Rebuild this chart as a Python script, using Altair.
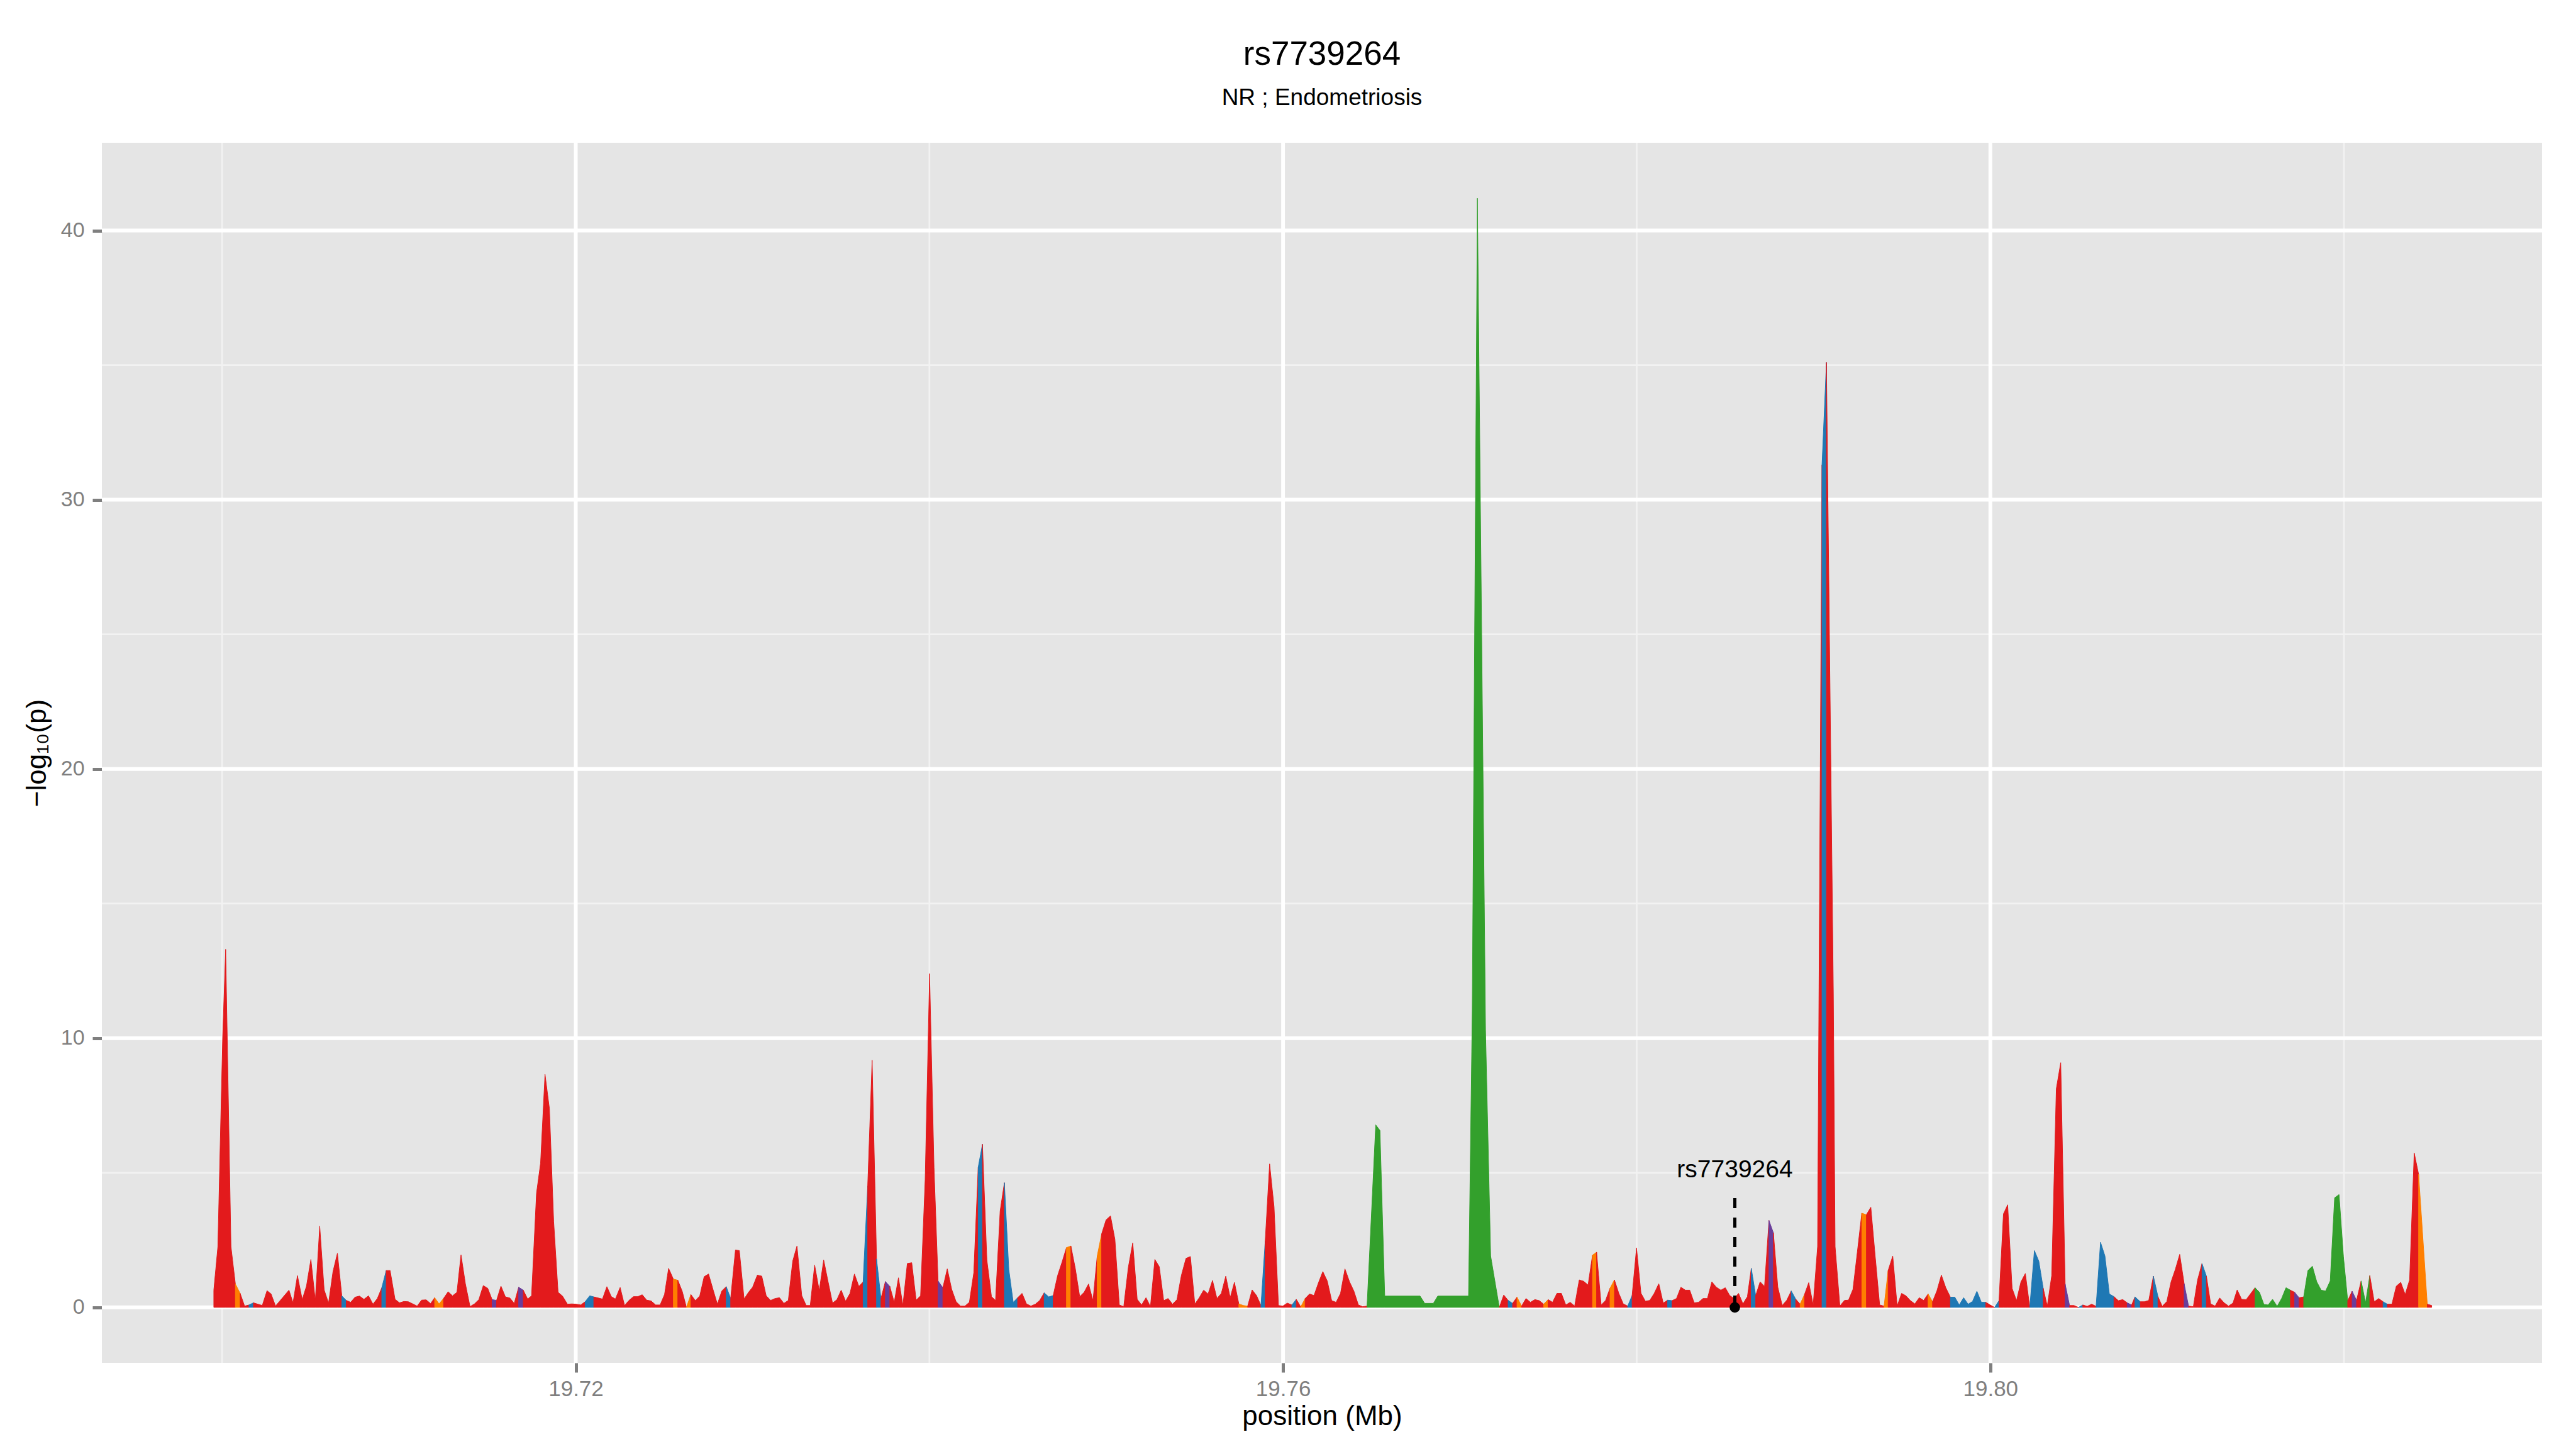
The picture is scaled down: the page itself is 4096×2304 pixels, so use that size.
import altair as alt
import pandas as pd

# ---------------- data ----------------
# SNP positions (kb) along chromosome, -log10(p), and the class colouring the
# segment that starts at each SNP (R red, B blue, G green, O orange, P purple)
pos_kb = [
    19699.53, 19699.76, 19700.03, 19700.20, 19700.50, 19700.75, 19701.02, 19701.27, 19701.52, 19701.77, 19702.27,
    19702.54, 19702.77, 19703.02, 19703.78, 19704.01, 19704.26, 19704.53, 19704.77, 19705.02, 19705.27,
    19705.52, 19705.77, 19706.02, 19706.27, 19706.52, 19706.77, 19707.02, 19707.27, 19707.52, 19707.77,
    19708.02, 19708.28, 19708.53, 19708.78, 19709.03, 19709.28, 19709.50, 19709.78, 19710.03, 19710.28,
    19710.53, 19710.78, 19711.03, 19711.28, 19711.54, 19711.79, 19712.02, 19712.27, 19712.52, 19712.78,
    19713.03, 19713.28, 19713.51, 19713.76, 19714.02, 19714.27, 19714.52, 19714.77, 19715.02, 19715.27,
    19715.52, 19715.77, 19716.02, 19716.27, 19716.52, 19716.77, 19717.03, 19717.28, 19717.50, 19717.78,
    19718.01, 19718.26, 19718.51, 19718.75, 19719.00, 19719.25, 19719.53, 19719.78, 19720.03, 19720.28,
    19720.53, 19720.79, 19721.02, 19721.51, 19721.76, 19722.01, 19722.24, 19722.51, 19722.76, 19723.01,
    19723.26, 19723.51, 19723.76, 19724.01, 19724.26, 19724.52, 19724.77, 19725.02, 19725.25, 19725.52,
    19725.77, 19726.02, 19726.26, 19726.51, 19726.76, 19727.01, 19727.26, 19727.51, 19727.76, 19728.01,
    19728.26, 19728.51, 19728.76, 19729.03, 19729.25, 19729.52, 19729.77, 19730.00, 19730.27, 19730.52,
    19730.77, 19731.02, 19731.27, 19731.52, 19731.77, 19732.02, 19732.27, 19732.51, 19732.78, 19733.03,
    19733.26, 19733.51, 19733.77, 19734.02, 19734.27, 19734.52, 19734.77, 19735.01, 19735.26, 19735.51,
    19735.76, 19736.01, 19736.25, 19736.51, 19736.76, 19737.01, 19737.26, 19737.51, 19737.76, 19738.01,
    19738.25, 19738.50, 19738.75, 19739.00, 19739.25, 19739.50, 19739.76, 19740.01, 19740.26, 19740.49,
    19740.76, 19741.01, 19741.26, 19741.51, 19741.76, 19742.01, 19742.26, 19742.51, 19742.76, 19743.00,
    19743.25, 19743.51, 19743.74, 19744.00, 19744.24, 19744.49, 19744.74, 19744.99, 19745.24, 19745.49,
    19745.74, 19745.99, 19746.24, 19746.49, 19746.75, 19747.00, 19747.25, 19747.50, 19747.75, 19748.00,
    19748.25, 19748.50, 19748.75, 19749.00, 19749.25, 19749.49, 19749.74, 19749.99, 19750.24, 19750.49,
    19750.74, 19750.99, 19751.25, 19751.50, 19751.75, 19752.00, 19752.25, 19752.50, 19752.75, 19753.00,
    19753.25, 19753.50, 19753.75, 19754.00, 19754.25, 19754.51, 19754.76, 19755.01, 19755.26, 19755.51,
    19755.76, 19756.01, 19756.26, 19756.51, 19756.76, 19757.01, 19757.25, 19757.50, 19757.75, 19758.00,
    19758.25, 19758.50, 19758.75, 19758.99, 19759.24, 19759.49, 19759.74, 19759.99, 19760.24, 19760.50,
    19760.75, 19761.00, 19761.25, 19761.50, 19761.75, 19762.00, 19762.25, 19762.50, 19762.75, 19763.00,
    19763.25, 19763.50, 19763.76, 19764.01, 19764.26, 19764.50, 19764.75, 19765.24, 19765.48, 19765.75,
    19767.75, 19768.01, 19768.50, 19768.75, 19770.49, 19770.70, 19770.99, 19771.45, 19771.74, 19772.23,
    19772.48, 19772.73, 19772.98, 19773.23, 19773.49, 19773.74, 19773.99, 19774.24, 19774.49, 19774.74,
    19774.99, 19775.24, 19775.49, 19775.74, 19775.99, 19776.24, 19776.49, 19776.75, 19777.00, 19777.25,
    19777.50, 19777.73, 19777.99, 19778.24, 19778.49, 19778.74, 19778.99, 19779.24, 19779.49, 19779.74,
    19779.99, 19780.24, 19780.49, 19780.74, 19780.99, 19781.25, 19781.50, 19781.75, 19782.00, 19782.25,
    19782.50, 19782.75, 19783.00, 19783.25, 19783.50, 19783.75, 19784.00, 19784.25, 19784.50, 19784.76,
    19785.01, 19785.26, 19785.51, 19785.76, 19786.01, 19786.26, 19786.48, 19786.73, 19786.98, 19787.23,
    19787.48, 19787.73, 19787.98, 19788.23, 19788.49, 19788.74, 19788.99, 19789.24, 19789.49, 19789.73,
    19789.98, 19790.23, 19790.30, 19790.48, 19790.73, 19791.12, 19791.22, 19791.49, 19791.75, 19791.98,
    19792.23, 19792.48, 19792.73, 19792.99, 19793.24, 19793.49, 19793.74, 19793.99, 19794.22, 19794.48,
    19794.73, 19794.98, 19795.23, 19795.48, 19795.73, 19795.98, 19796.23, 19796.48, 19796.73, 19796.98,
    19797.23, 19797.48, 19797.74, 19797.99, 19798.24, 19798.49, 19798.74, 19798.99, 19799.24, 19799.49,
    19799.74, 19799.99, 19800.24, 19800.49, 19800.74, 19800.98, 19801.23, 19801.48, 19801.73, 19801.98,
    19802.23, 19802.49, 19802.74, 19802.99, 19803.22, 19803.47, 19803.73, 19803.98, 19804.23, 19804.48,
    19804.73, 19804.98, 19805.23, 19805.48, 19805.73, 19805.98, 19806.23, 19806.48, 19806.73, 19806.99,
    19807.24, 19807.49, 19807.74, 19807.99, 19808.18, 19808.48, 19808.72, 19808.96, 19809.22, 19809.48,
    19809.72, 19809.98, 19810.22, 19810.46, 19810.71, 19810.96, 19811.21, 19811.48, 19811.72, 19811.97,
    19812.22, 19812.46, 19812.71, 19812.97, 19813.22, 19813.47, 19813.72, 19813.96, 19814.21, 19814.47,
    19814.72, 19814.97, 19815.22, 19815.47, 19815.71, 19815.96, 19816.22, 19816.47, 19816.72, 19816.97,
    19817.21, 19817.46, 19817.72, 19817.96, 19818.21, 19818.46, 19818.71, 19818.96, 19819.22, 19819.47,
    19819.72, 19819.97, 19820.21, 19820.46, 19820.71, 19820.97, 19821.22, 19821.46, 19821.71, 19821.96,
    19822.21, 19822.45, 19822.71, 19822.96, 19823.21, 19823.46, 19823.71, 19823.97, 19824.22, 19824.71, 19824.96,
]

logp = [
    0.64, 2.26, 10.0, 13.3, 2.26, 0.87, 0.52, 0.05, 0.09, 0.17, 0.07,
    0.62, 0.50, 0.05, 0.64, 0.17, 1.18, 0.29, 0.79, 1.78, 0.26,
    3.02, 0.65, 0.16, 1.33, 2.01, 0.43, 0.26, 0.19, 0.38, 0.42,
    0.30, 0.43, 0.12, 0.33, 0.73, 1.37, 1.37, 0.30, 0.17, 0.22,
    0.21, 0.13, 0.05, 0.27, 0.28, 0.14, 0.36, 0.13, 0.33, 0.58,
    0.43, 0.56, 1.95, 0.87, 0.03, 0.13, 0.29, 0.81, 0.71, 0.29,
    0.26, 0.79, 0.39, 0.35, 0.15, 0.75, 0.64, 0.31, 0.43, 4.24,
    5.36, 8.66, 7.38, 3.19, 0.56, 0.42, 0.12, 0.13, 0.12, 0.09,
    0.21, 0.43, 0.39, 0.31, 0.77, 0.40, 0.31, 0.74, 0.07, 0.26,
    0.40, 0.40, 0.47, 0.27, 0.24, 0.09, 0.09, 0.48, 1.45, 1.05,
    1.01, 0.60, 0.00, 0.48, 0.25, 0.42, 1.14, 1.24, 0.67, 0.12,
    0.61, 0.77, 0.33, 2.13, 2.11, 0.31, 0.56, 0.75, 1.20, 1.16,
    0.43, 0.26, 0.33, 0.36, 0.15, 0.26, 1.72, 2.28, 0.44, 0.07,
    0.07, 1.57, 0.62, 1.76, 0.95, 0.16, 0.29, 0.64, 0.23, 0.52,
    1.24, 0.78, 0.95, 4.51, 9.18, 1.80, 0.33, 0.96, 0.78, 0.19,
    1.10, 0.07, 1.63, 1.66, 0.27, 0.43, 4.74, 12.4, 5.20, 0.98,
    0.73, 1.43, 0.67, 0.21, 0.05, 0.05, 0.19, 1.29, 5.21, 6.06,
    1.76, 0.40, 0.26, 3.58, 4.63, 1.41, 0.19, 0.36, 0.52, 0.13,
    0.05, 0.12, 0.26, 0.54, 0.39, 0.44, 1.18, 1.68, 2.22, 2.28,
    1.45, 0.40, 0.56, 0.87, 0.25, 1.91, 2.73, 3.25, 3.40, 2.53,
    0.09, 0.03, 1.49, 2.40, 0.30, 0.09, 0.36, 0.03, 1.78, 1.51,
    0.25, 0.33, 0.12, 0.29, 1.19, 1.82, 1.89, 0.12, 0.36, 0.64,
    0.50, 1.00, 0.33, 0.52, 1.16, 0.36, 0.93, 0.13, 0.07, 0.05,
    0.65, 0.44, 0.07, 2.46, 5.33, 3.74, 0.07, 0.05, 0.16, 0.09,
    0.30, 0.02, 0.33, 0.50, 0.44, 0.91, 1.33, 0.98, 0.25, 0.19,
    0.52, 1.43, 0.95, 0.60, 0.09, 0.03, 0.05, 6.78, 6.57, 0.42,
    0.42, 0.15, 0.15, 0.42, 0.42, 11.0, 41.2, 10.3, 1.91, 0.00,
    0.46, 0.26, 0.15, 0.38, 0.05, 0.33, 0.19, 0.29, 0.25, 0.12,
    0.29, 0.19, 0.52, 0.52, 0.09, 0.19, 0.05, 1.02, 0.97, 0.83,
    1.94, 2.05, 0.09, 0.26, 0.71, 1.02, 0.52, 0.13, 0.05, 0.44,
    2.21, 0.53, 0.23, 0.26, 0.52, 0.88, 0.16, 0.27, 0.25, 0.33,
    0.75, 0.64, 0.64, 0.17, 0.19, 0.33, 0.33, 0.95, 0.75, 0.64,
    0.73, 0.44, 0.33, 0.52, 0.13, 0.40, 1.45, 0.44, 0.95, 0.78,
    3.23, 2.77, 0.75, 0.07, 0.27, 0.61, 0.31, 0.12, 0.48, 0.92,
    0.09, 2.26, 10.7, 31.3, 35.1, 11.7, 2.26, 0.05, 0.26, 0.27,
    0.67, 2.07, 3.50, 3.44, 3.72, 1.88, 0.09, 0.05, 1.37, 1.91,
    0.05, 0.52, 0.43, 0.25, 0.13, 0.36, 0.26, 0.50, 0.21, 0.62,
    1.20, 0.73, 0.38, 0.38, 0.09, 0.36, 0.12, 0.22, 0.60, 0.19,
    0.19, 0.09, 0.00, 0.25, 3.47, 3.81, 0.71, 0.25, 0.95, 1.26,
    0.00, 2.11, 1.72, 0.71, 0.05, 1.18, 8.12, 9.09, 0.87, 0.07,
    0.07, 0.00, 0.09, 0.04, 0.12, 0.04, 2.42, 1.91, 0.50, 0.40,
    0.25, 0.29, 0.17, 0.09, 0.39, 0.21, 0.21, 0.26, 1.16, 0.40,
    0.04, 0.22, 0.95, 1.41, 1.97, 0.88, 0.05, 0.03, 1.02, 1.63,
    1.16, 0.13, 0.05, 0.35, 0.17, 0.05, 0.16, 0.65, 0.30, 0.29,
    0.51, 0.73, 0.56, 0.11, 0.09, 0.30, 0.04, 0.33, 0.73, 0.64,
    0.56, 0.36, 0.39, 1.37, 1.53, 0.95, 0.64, 0.61, 0.98, 4.07,
    4.19, 1.88, 0.25, 0.60, 0.26, 0.98, 0.17, 1.18, 0.21, 0.33,
    0.21, 0.12, 0.12, 0.79, 0.93, 0.48, 1.02, 5.74, 4.94, 0.12, 0.07,
]

segment_class = "".join([
    "RRRRRORRBRR",
    "RRRRRRRRRR", "RRRRRBRRRR", "RRRRBRRRRR", "RRRRRROORR", "RRRRRRRRRP",
    "RRRRRPRRRR", "RRRRRRRRRR", "BBRRRRRRRR", "RRRRRRRRRO", "RRORRRRRRR",
    "RBRRRRRRRR", "RRRRRRRRRR", "RRRRRRRRRR", "RRBRRBRPRR", "RRRRRRRRRP",
    "RRRRRRRRBR", "RRRRBBBRRR", "RRRBBRRROR", "RRRRRORRRR", "RRRRRRRRRR",
    "RRRRRRRRRR", "RRRRRRROOR", "RRBRRRRRRB", "RORRRRRRRR", "RRRRRRGGGG",
    "GGGGGGGGGR", "RBRORRRRRO", "RRRRRRRRRR", "ORRRORRRBR", "RRRRRRRBRR",
    "RRRRRRRRRR", "RRRRRRBRRR", "PRRRRBRORR", "RRRBRRRRRR", "RRORRRRORR",
    "RRRRRRRORR", "RRBBBBBBBB", "RRBRRRRRRR", "BBBRRRRRPR", "RBRRRBBBBR",
    "RRPRBRRRBR", "RRRRRPRRRB", "RRRRRRRRRR", "RGGGGGGGGR", "PRGGGGGGGG",
    "GGRPRGGRRR", "BRRRRRRRORR",
])

class_names = ["R", "B", "G", "O", "P"]
class_colors = ["#E31A1C", "#1F78B4", "#33A02C", "#FF7F00", "#6A3D9A"]

x_major = [19.72, 19.76, 19.80]
x_minor = [19.70, 19.74, 19.78, 19.82]
y_major = [0, 10, 20, 30, 40]
y_minor = [5, 15, 25, 35]

snp_name = "rs7739264"
snp_pos_mb = 19.78555
snp_stem_top = 4.06
snp_label_y = 4.84

title_text = "rs7739264"
subtitle_text = "NR ; Endometriosis"
x_title = "position (Mb)"
y_title = "\u2212log\u2081\u2080(p)"

# ---------------- build runs of equal colour ----------------
n = len(pos_kb)
rows = []
run_id = 0
i = 0
while i < n - 1:
    c = segment_class[i]
    j = i
    while j + 1 < n - 1 and segment_class[j + 1] == c:
        j += 1
    for k in range(i, j + 2):
        rows.append({"pos": pos_kb[k] / 1000.0, "logp": logp[k], "base": 0.0,
                     "run": run_id, "cls": c})
    run_id += 1
    i = j + 1
df = pd.DataFrame(rows)

# ---------------- layout (pixels, already scaled 0.853) ----------------
W, H = 3880, 1940
FONT = "Liberation Sans, Arial, Helvetica, sans-serif"
GREY = "#7F7F7F"

xs = alt.Scale(domain=[19.6932, 19.8312], nice=False, zero=False)
ys = alt.Scale(domain=[-2.06, 43.26], nice=False, zero=False)
cscale = alt.Scale(domain=class_names, range=class_colors)

x_axis = alt.Axis(values=x_major, format=".2f", grid=False, domain=False,
                  tickColor=GREY, tickWidth=5, tickSize=15, labelPadding=9,
                  labelFont=FONT, labelFontSize=35, labelColor=GREY,
                  title=x_title, titleFont=FONT, titleFontSize=44,
                  titleFontWeight="normal", titleColor="black",
                  titleX=W / 2, titleY=98, titleAlign="center",
                  titleBaseline="alphabetic", titleAngle=0)
y_axis = alt.Axis(values=y_major, format="d", grid=False, domain=False,
                  tickColor=GREY, tickWidth=5, tickSize=15, labelPadding=12.8,
                  labelFont=FONT, labelFontSize=34, labelColor=GREY,
                  title=y_title, titleFont=FONT, titleFontSize=44,
                  titleFontWeight="normal", titleColor="black",
                  titleX=-90, titleY=H / 2, titleAlign="center",
                  titleBaseline="alphabetic", titleAngle=270)


def X(field):
    return alt.X(field, scale=xs, axis=x_axis)


def Y(field):
    return alt.Y(field, scale=ys, axis=y_axis)


minor_v = alt.Chart(pd.DataFrame({"pos": x_minor})).mark_rule(
    color="#F2F2F2", strokeWidth=2.7).encode(x=X("pos:Q"))
minor_h = alt.Chart(pd.DataFrame({"logp": y_minor})).mark_rule(
    color="#F2F2F2", strokeWidth=2.7).encode(y=Y("logp:Q"))
major_v = alt.Chart(pd.DataFrame({"pos": x_major})).mark_rule(
    color="white", strokeWidth=6).encode(x=X("pos:Q"))
major_h = alt.Chart(pd.DataFrame({"logp": y_major})).mark_rule(
    color="white", strokeWidth=6).encode(y=Y("logp:Q"))

areas = alt.Chart(df).mark_area(strokeWidth=1, opacity=1).encode(
    x=X("pos:Q"),
    y=Y("logp:Q"),
    y2=alt.Y2("base:Q"),
    color=alt.Color("cls:N", scale=cscale, legend=None),
    stroke=alt.Stroke("cls:N", scale=cscale, legend=None),
    detail="run:N",
)

snp_df = pd.DataFrame({"pos": [snp_pos_mb], "logp": [snp_stem_top], "base": [0.0],
                       "label_y": [snp_label_y], "name": [snp_name]})
stem = alt.Chart(snp_df).mark_rule(color="black", strokeWidth=5,
                                   strokeDash=[16, 15]).encode(
    x=X("pos:Q"), y=Y("logp:Q"), y2=alt.Y2("base:Q"))
dot = alt.Chart(snp_df).mark_point(filled=True, color="black", opacity=1,
                                   size=280).encode(
    x=X("pos:Q"), y=Y("base:Q"))
label = alt.Chart(snp_df).mark_text(font=FONT, fontSize=39, color="black",
                                    align="center", baseline="alphabetic").encode(
    x=X("pos:Q"), y=Y("label_y:Q"), text="name:N")

title_mark = alt.Chart(pd.DataFrame({"t": [title_text]})).mark_text(
    font=FONT, fontSize=53, color="black", align="center", baseline="alphabetic"
).encode(x=alt.value(W / 2), y=alt.value(-124), text="t:N")
subtitle_mark = alt.Chart(pd.DataFrame({"t": [subtitle_text]})).mark_text(
    font=FONT, fontSize=37, color="black", align="center", baseline="alphabetic"
).encode(x=alt.value(W / 2), y=alt.value(-60), text="t:N")

chart = alt.layer(
    minor_v, minor_h, major_v, major_h, areas, stem, dot, label,
    title_mark, subtitle_mark,
).properties(
    width=W, height=H,
    padding={"left": 154, "top": 219, "right": 38, "bottom": 120},
    autosize=alt.AutoSizeParams(type="none"),
    background="white",
).configure_view(fill="#E5E5E5", stroke=None)

chart.save("out.html", embed_options={"renderer": "svg", "actions": False})
